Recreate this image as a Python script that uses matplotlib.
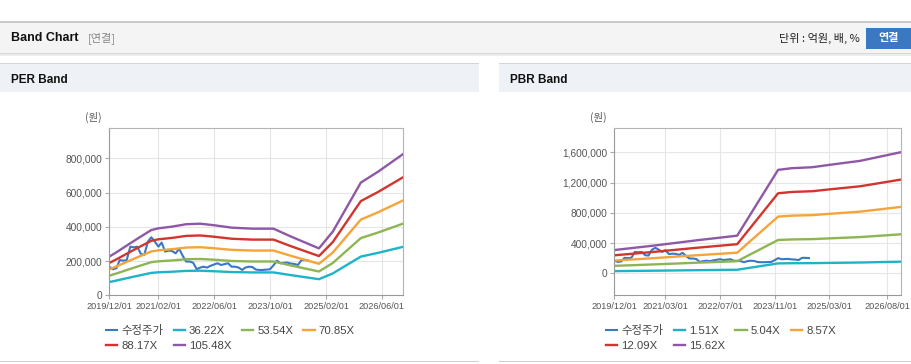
import matplotlib
matplotlib.use('Agg')
import matplotlib.pyplot as plt
from matplotlib.patches import Rectangle
from matplotlib.ticker import FuncFormatter
import matplotlib.dates as mdates
import pandas as pd

W, H = 912, 364

# 수정주가 (monthly, 2019/12 ~ 2024/09)
price = [167000, 152000, 158000, 206000, 202000, 206000, 284000, 280000, 284000, 241000,
         236000, 313000, 339000, 313000, 284000, 308000, 255000, 261000, 258000, 245000,
         272000, 230000, 197000, 197000, 190000, 152000, 162000, 167000, 162000, 172000,
         180000, 187000, 177000, 182000, 187000, 167000, 167000, 162000, 148000, 162000,
         167000, 165000, 150000, 148000, 148000, 150000, 152000, 175000, 202000, 187000,
         190000, 191000, 185000, 183000, 177000, 205000, 206000, 202000]
price_dates = pd.date_range('2019-12-01', periods=len(price), freq='MS')

# PER band: EPS and multiples
per_dates = ['2019-12', '2020-02', '2020-06', '2020-09', '2020-12', '2021-02', '2021-06',
             '2021-10', '2022-02', '2022-06', '2022-11', '2023-05', '2023-11', '2024-04',
             '2024-12', '2025-04', '2025-12', '2026-05', '2026-12']
per_eps = [2143, 2380, 2882, 3252, 3612, 3707, 3802, 3934, 3963, 3878, 3745, 3688, 3688,
           3252, 2598, 3527, 6238, 6845, 7802]
per_mult = [36.22, 53.54, 70.85, 88.17, 105.48]
per_xticks = ['2019-12-01', '2021-02-01', '2022-06-01', '2023-10-01', '2025-02-01', '2026-06-01']

# PBR band: BPS and multiples
pbr_dates = ['2019-12', '2020-12', '2021-12', '2022-12', '2023-12', '2024-04', '2024-10',
             '2025-03', '2025-12', '2026-12']
pbr_bps = [19780, 23690, 27980, 31950, 87710, 89120, 89950, 91930, 95330, 102690]
pbr_mult = [1.51, 5.04, 8.57, 12.09, 15.62]
pbr_xticks = ['2019-12-01', '2021-03-01', '2022-07-01', '2023-11-01', '2025-03-01', '2026-08-01']

price_color = '#3b77c6'
band_colors = ['#1eb4c8', '#8db653', '#f5a43a', '#d1352e', '#8f58a6']

FONT = ['Liberation Sans', 'Noto Sans CJK KR', 'DejaVu Sans']
KFONT = ['Noto Sans CJK KR', 'DejaVu Sans']
plt.rcParams['font.family'] = FONT

fig = plt.figure(figsize=(W / 100, H / 100), dpi=100)


def box(x0, y0, x1, y1, color, z=0):
    fig.add_artist(Rectangle((x0 / W, 1 - y1 / H), (x1 - x0) / W, (y1 - y0) / H,
                             transform=fig.transFigure, facecolor=color,
                             edgecolor='none', zorder=z))


def ftext(x, y, s, **kw):
    fig.text(x / W, 1 - y / H, s, va='center', **kw)


# header bar
box(0, 21, 912, 23, '#c9c9c9')
box(0, 23, 912, 53, '#f4f4f4')
box(0, 53, 912, 54, '#d6d6d6')
box(0, 54, 912, 56, '#ececec')
ftext(11, 38, 'Band Chart', fontsize=9, fontweight='bold', color='#111111')
ftext(88, 38, '[연결]', fontsize=8, color='#888888', family=KFONT)
ftext(860, 38, '단위 : 억원, 배, %', fontsize=8, color='#222222', ha='right', family=KFONT)
box(866, 28, 912, 49, '#3a78c2')
ftext(889, 38, '연결', fontsize=8, color='white', fontweight='bold', ha='center', family=KFONT)

# panel title bars
for x0, x1, title in [(0, 479, 'PER Band'), (499, 912, 'PBR Band')]:
    box(x0, 63, x1, 64, '#d5d5d5')
    box(x0, 64, x1, 92, '#eef2f7')
    box(x0, 361, x1, 362, '#cfcfcf')
    ftext(x0 + 11, 80, title, fontsize=8.5, fontweight='bold', color='#111111')


def draw(rect, dates, base, mults, ylim, yticks, xticks, leg_x):
    ax = fig.add_axes(rect)
    ax.plot(price_dates, price, color=price_color, lw=1.5, label='수정주가')
    d = pd.to_datetime(dates)
    for m, c in zip(mults, band_colors):
        ax.plot(d, [b * m for b in base], color=c, lw=1.7, label=f'{m:.2f}X')
    ax.set_xlim(pd.Timestamp('2019-12-01'), pd.Timestamp('2026-12-01'))
    ax.set_ylim(*ylim)
    ax.set_yticks(yticks)
    ax.yaxis.set_major_formatter(FuncFormatter(lambda v, p: f'{v:,.0f}'))
    ax.set_xticks(pd.to_datetime(xticks))
    ax.xaxis.set_major_formatter(mdates.DateFormatter('%Y/%m/%d'))
    ax.grid(True, color='#e6e6e6', lw=0.8)
    ax.set_axisbelow(True)
    for s in ax.spines.values():
        s.set_color('#b4b4b4')
    ax.spines['left'].set_color('#999999')
    ax.spines['bottom'].set_color('#999999')
    ax.tick_params(axis='y', labelsize=7.3, colors='#555555', length=3, pad=2)
    ax.tick_params(axis='x', labelsize=6.6, colors='#555555', length=3, pad=2)
    ax.tick_params(color='#aaaaaa')
    x0 = rect[0] * W
    ftext(x0 - 16, 117, '(원)', fontsize=7.5, color='#555555', ha='center', family=KFONT)
    h, l = ax.get_legend_handles_labels()
    order = [0, 4, 1, 5, 2, 3]  # row-wise reading order in a 4-column legend
    fig.legend([h[i] for i in order], [l[i] for i in order], loc='upper left',
               bbox_to_anchor=(leg_x / W, 1 - 325 / H), ncol=4, frameon=False,
               fontsize=8.2, handlelength=1.0, handletextpad=0.35, columnspacing=0.9,
               labelspacing=0.4, borderaxespad=0, borderpad=0,
               labelcolor='#444444')
    return ax


draw([109.3 / W, 1 - 295.3 / H, 293.4 / W, 167 / H], per_dates, per_eps, per_mult,
     (0, 975000), [0, 200000, 400000, 600000, 800000], per_xticks, 106)
draw([614.3 / W, 1 - 295.3 / H, 286.7 / W, 167 / H], pbr_dates, pbr_bps, pbr_mult,
     (-290000, 1920000), [0, 400000, 800000, 1200000, 1600000], pbr_xticks, 606)

fig.savefig('out.png', dpi=100)
